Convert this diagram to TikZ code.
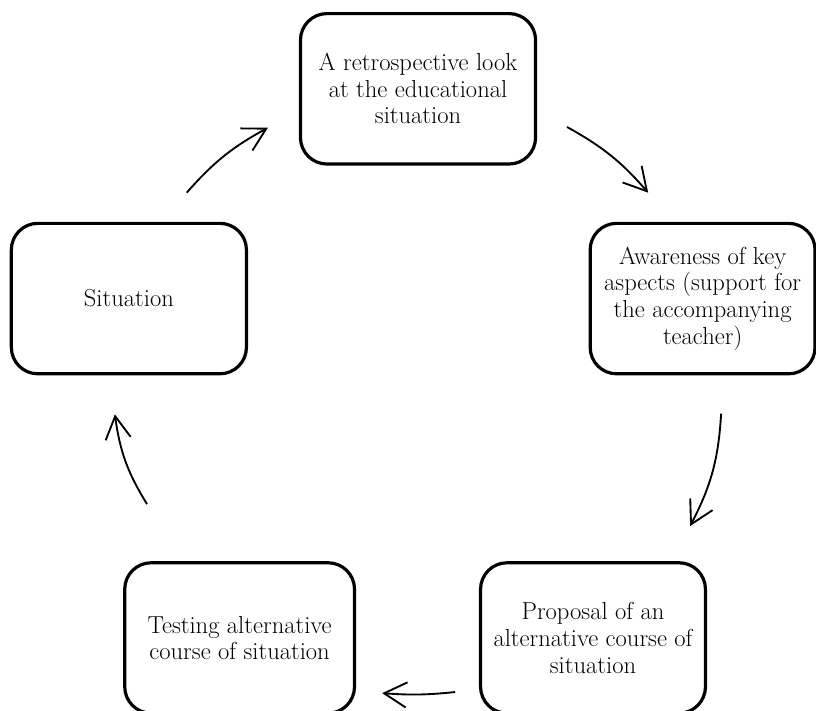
\documentclass[tikz,border=0pt]{standalone}
\usepackage{xcolor}
\usepackage{tikz}
\usetikzlibrary{arrows.meta,positioning}

\begin{document}
\begin{tikzpicture}[
  font=\fontsize{18.5}{20}\selectfont,
  stage/.style={draw=black,fill=white,line width=2.4pt,rounded corners=0.7cm,minimum width=6.22cm,minimum height=3.98cm,align=center},
  ar/.style={-{Straight Barb[length=17pt,width=19pt]},draw=black,line width=1.4pt}
]
\useasboundingbox (0,0) rectangle (21.59,18.81);

\node[stage]                     (look)   at (11.06,16.46) {A retrospective look\\at the educational\\situation};
\node[stage,minimum width=5.95cm] (aware)  at (18.59,10.91) {Awareness of key\\aspects (support for\\the accompanying\\teacher)};
\node[stage,minimum width=5.95cm] (prop)   at (15.69,1.93)  {Proposal of an\\alternative course of\\situation};
\node[stage,minimum width=6.08cm] (test)   at (6.34,1.93)   {Testing alternative\\course of situation};
\node[stage]                     (sit)    at (3.41,10.91)  {Situation};

\draw[ar] ([xshift=1.53cm,yshift=0.77cm]sit.north) to[bend left=10] ([xshift=-0.82cm,yshift=-1.03cm]look.west);
\draw[ar] ([xshift=0.79cm,yshift=-1.01cm]look.east) to[bend left=10] ([xshift=-1.44cm,yshift=0.77cm]aware.north);
\draw[ar] ([xshift=0.49cm,yshift=-1.01cm]aware.south) to[bend left=12] ([xshift=2.57cm,yshift=0.93cm]prop.north);
\draw[ar] ([xshift=-0.63cm,yshift=-1.43cm]prop.west) to[bend left=5] ([xshift=0.69cm,yshift=-1.46cm]test.east);
\draw[ar] ([xshift=-2.45cm,yshift=1.51cm]test.north) to[bend left=12] ([xshift=-0.37cm,yshift=-1.03cm]sit.south);
\end{tikzpicture}
\end{document}
